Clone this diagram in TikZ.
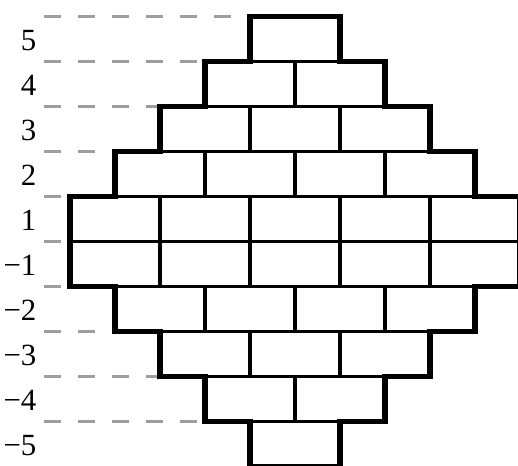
\documentclass[tikz,border=0pt]{standalone}
\usepackage{fontspec}
\setmainfont{Liberation Serif}
\newcommand{\labfont}{\fontsize{19.5pt}{23pt}\selectfont}
\begin{document}
\begin{tikzpicture}[x=1cm,y=1cm,
  brick/.style={line width=2.1pt},
  outline/.style={line width=3.6pt, line join=miter},
  guide/.style={draw=black!38, line width=1.5pt, dash pattern=on 0.378cm off 0.378cm},
  lab/.style={anchor=base east, inner sep=0pt, font=\labfont}]
\useasboundingbox (-6.556,-4.989) rectangle (4.956,5.367);
% guide lines
\foreach \y/\e [count=\k] in {5/-1,4/-2,3/-3,2/-4,1/-5,0/-5,-1/-5,-2/-4,-3/-3,-4/-2} {
  \coordinate (gs\k) at (-5.58,\y);
  \coordinate (ge\k) at (\e,\y);
  \draw[guide] (gs\k) -- (ge\k);
}
% bricks
\foreach \n/\y in {1/4,2/3,3/2,4/1,5/0,5/-1,4/-2,3/-3,2/-4,1/-5} {
  \foreach \i in {1,...,\n} {
    \draw[brick] ({-\n+2*(\i-1)},\y) rectangle ++(2,1);
  }
}
% outline
\draw[outline] (-1,5) -- (1,5) -- (1,4) -- (2,4) -- (2,3) -- (3,3) -- (3,2) -- (4,2) -- (4,1) -- (5,1)
  -- (5,-1) -- (4,-1) -- (4,-2) -- (3,-2) -- (3,-3) -- (2,-3) -- (2,-4) -- (1,-4) -- (1,-5)
  -- (-1,-5) -- (-1,-4) -- (-2,-4) -- (-2,-3) -- (-3,-3) -- (-3,-2) -- (-4,-2) -- (-4,-1) -- (-5,-1)
  -- (-5,1) -- (-4,1) -- (-4,2) -- (-3,2) -- (-3,3) -- (-2,3) -- (-2,4) -- (-1,4) -- cycle;
% labels
\node[lab] (l5) at (-5.74,4.25) {5};
\node[lab] (l4) at (-5.74,3.25) {4};
\node[lab] (l3) at (-5.74,2.25) {3};
\node[lab] (l2) at (-5.74,1.25) {2};
\node[lab] (l1) at (-5.74,0.25) {1};
\node[lab] (lm1) at (-5.74,-0.75) {−1};
\node[lab] (lm2) at (-5.74,-1.75) {−2};
\node[lab] (lm3) at (-5.74,-2.75) {−3};
\node[lab] (lm4) at (-5.74,-3.75) {−4};
\node[lab] (lm5) at (-5.74,-4.75) {−5};
\end{tikzpicture}
\end{document}
